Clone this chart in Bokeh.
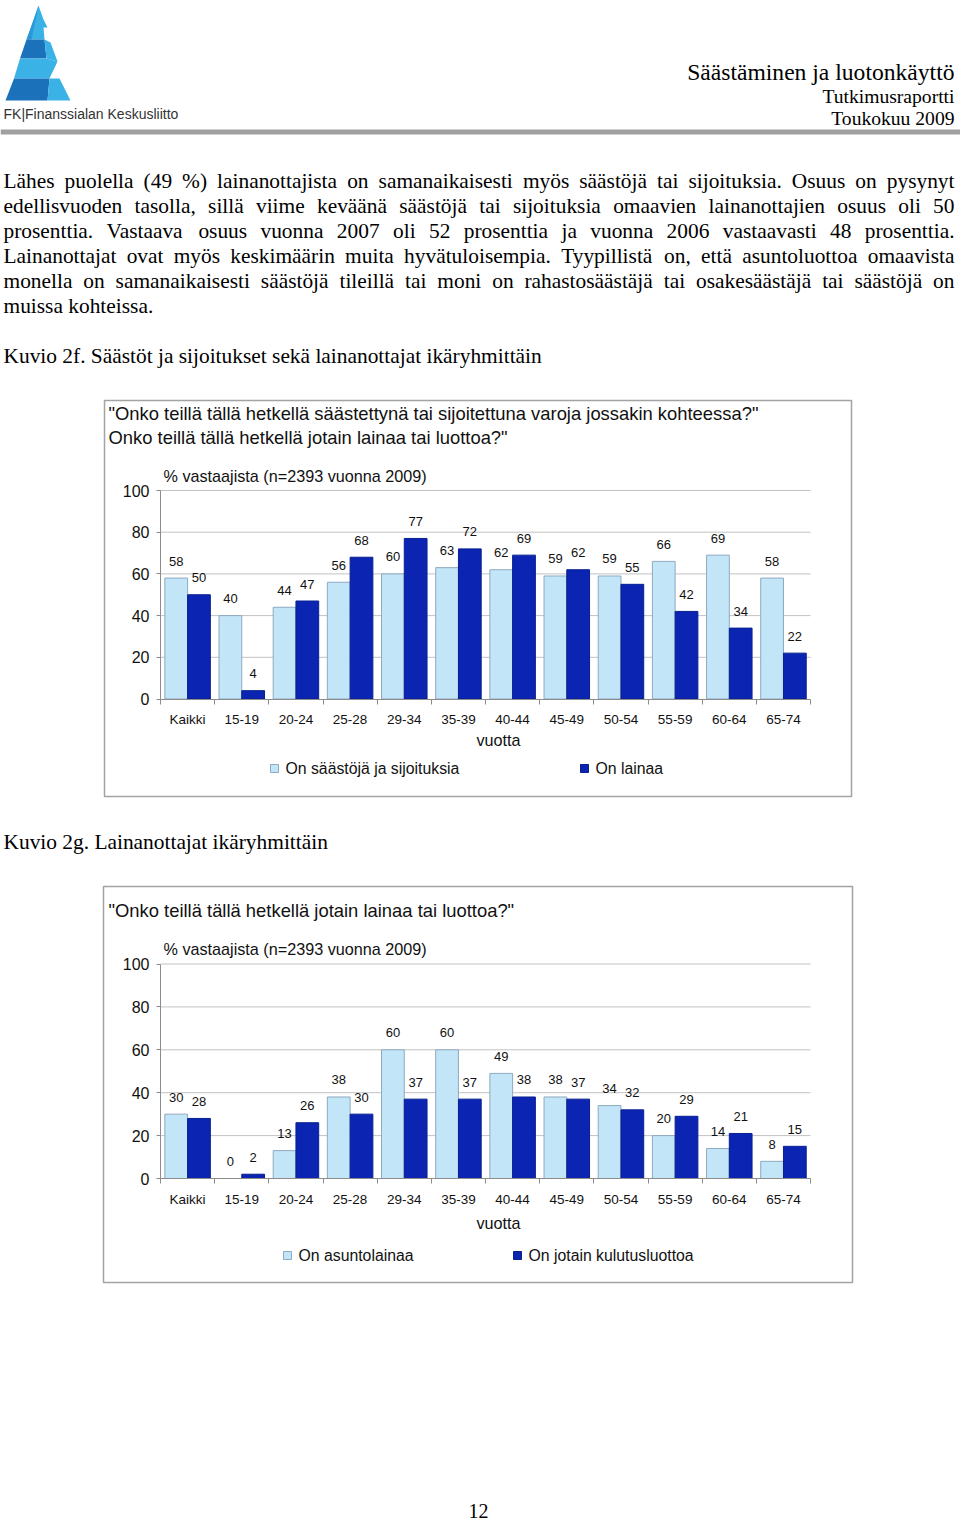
from bokeh.plotting import figure
from bokeh.models import Range1d, LinearAxis, FixedTicker
from bokeh.core.properties import value
from bokeh.embed import file_html
from bokeh.resources import INLINE

# ---------------- DATA ----------------
CATEGORIES = ["Kaikki", "15-19", "20-24", "25-28", "29-34", "35-39",
              "40-44", "45-49", "50-54", "55-59", "60-64", "65-74"]
SAVINGS = [58, 40, 44, 56, 60, 63, 62, 59, 59, 66, 69, 58]      # On säästöjä ja sijoituksia
LOANS = [50, 4, 47, 68, 77, 72, 69, 62, 55, 42, 34, 22]         # On lainaa
MORTGAGE = [30, 0, 13, 38, 60, 60, 49, 38, 34, 20, 14, 8]       # On asuntolainaa
CONSUMER = [28, 2, 26, 30, 37, 37, 38, 37, 32, 29, 21, 15]      # On jotain kulutusluottoa
Y_TICKS = [0, 20, 40, 60, 80, 100]
GRID_VALUES = [20, 40, 60, 80, 100]

SERIES_1 = ["On säästöjä ja sijoituksia", "On lainaa"]
SERIES_2 = ["On asuntolainaa", "On jotain kulutusluottoa"]

HEADER_TITLE = "Säästäminen ja luotonkäyttö"
HEADER_SUB1 = "Tutkimusraportti"
HEADER_SUB2 = "Toukokuu 2009"
LOGO_TEXT = "FK|Finanssialan Keskusliitto"
BODY_LINES = [
    "Lähes puolella (49 %) lainanottajista on samanaikaisesti myös säästöjä tai sijoituksia. Osuus on pysynyt",
    "edellisvuoden tasolla, sillä viime keväänä säästöjä tai sijoituksia omaavien lainanottajien osuus oli 50",
    "prosenttia. Vastaava osuus vuonna 2007 oli 52 prosenttia ja vuonna 2006 vastaavasti 48 prosenttia.",
    "Lainanottajat ovat myös keskimäärin muita hyvätuloisempia. Tyypillistä on, että asuntoluottoa omaavista",
    "monella on samanaikaisesti säästöjä tileillä tai moni on rahastosäästäjä tai osakesäästäjä tai säästöjä on",
    "muissa kohteissa.",
]
CAPTION_1 = "Kuvio 2f. Säästöt ja sijoitukset sekä lainanottajat ikäryhmittäin"
CAPTION_2 = "Kuvio 2g. Lainanottajat ikäryhmittäin"
TITLE_1 = ['"Onko teillä tällä hetkellä säästettynä tai sijoitettuna varoja jossakin kohteessa?"',
           ' Onko teillä tällä hetkellä jotain lainaa tai luottoa?"']
TITLE_2 = ['"Onko teillä tällä hetkellä jotain lainaa tai luottoa?"']
SUBTITLE = "% vastaajista (n=2393 vuonna 2009)"
X_LABEL = "vuotta"
PAGE_NUMBER = "12"

# ---------------- STYLE / LAYOUT ----------------
SANS = "Liberation Sans"
SERIF = "Liberation Serif"
LIGHT, LIGHT_EDGE = "#C3E5F8", "#8FA9C0"
DARK, DARK_EDGE = "#0B24B2", "#08208F"
GRID_C, AXIS_C, BOX_C = "#C2C2C2", "#8C8C8C", "#A3A3A3"

W, H = 960, 1522
LEFT, RIGHT = 3, 954                     # text column edges in page coordinates
X0, DX = 187.1, 54.17                    # page x of first category centre, spacing
AXIS_X = 160
BAR_W = 0.42

CHARTS = [
    dict(name="c1", a=SAVINGS, b=LOANS, series=SERIES_1, titles=TITLE_1,
         box=(104, 851, 400, 796), y0=698.5, y100=490.0, title_y=[413, 437], sub_y=475,
         xlab_y=739, leg_y=768, leg_x=[274, 584]),
    dict(name="c2", a=MORTGAGE, b=CONSUMER, series=SERIES_2, titles=TITLE_2,
         box=(103, 852, 886, 1282), y0=1178.0, y100=963.5, title_y=[910], sub_y=948,
         xlab_y=1222, leg_y=1255, leg_x=[287, 517]),
]

TIMES = {' ': 250, 'a': 444, 'b': 500, 'c': 444, 'd': 500, 'e': 444, 'f': 333, 'g': 500,
         'h': 500, 'i': 278, 'j': 278, 'k': 500, 'l': 278, 'm': 778, 'n': 500, 'o': 500,
         'p': 500, 'q': 500, 'r': 333, 's': 389, 't': 278, 'u': 500, 'v': 500, 'w': 722,
         'x': 500, 'y': 500, 'z': 444, 'ä': 444, 'ö': 500, 'å': 444,
         'A': 722, 'B': 667, 'C': 667, 'D': 722, 'E': 611, 'F': 556, 'G': 722, 'H': 722,
         'I': 333, 'J': 389, 'K': 722, 'L': 611, 'M': 889, 'N': 722, 'O': 722, 'P': 556,
         'Q': 722, 'R': 667, 'S': 556, 'T': 611, 'U': 722, 'V': 722, 'W': 944, 'X': 722,
         'Y': 722, 'Z': 611, 'Ä': 722, 'Ö': 722, '.': 250, ',': 250, '(': 333, ')': 333,
         '%': 833, '-': 333, ':': 278, ';': 278, '?': 444, '!': 333}
for d in "0123456789":
    TIMES[d] = 500

BODY_SIZE = 21.4


def times_width(s, size):
    return sum(TIMES.get(ch, 500) for ch in s) * size / 1000.0


# ---------------- FIGURE ----------------
p = figure(width=W, height=H, x_range=Range1d(0, W), y_range=Range1d(H, 0),
           x_axis_type=None, y_axis_type=None, toolbar_location=None,
           output_backend="svg", min_border=0, outline_line_color=None,
           background_fill_color="white", border_fill_color="white")
p.grid.visible = False

p.extra_x_ranges = {"cx": Range1d((0 - X0) / DX, (W - X0) / DX)}
for ch in CHARTS:
    s = (ch["y0"] - ch["y100"]) / 100.0
    p.extra_y_ranges[ch["name"]] = Range1d((ch["y0"] - H) / s, (ch["y0"] - 0) / s)


def txt(x, y, t, size, font=SANS, align="left", baseline="middle", color="#111111"):
    p.text(x=[x], y=[y], text=[t], text_font=value(font), text_font_size=value(f"{size}px"),
           text_align=align, text_baseline=baseline, text_color=color)


# ---------------- HEADER ----------------
# logo (decorative)
logo_parts = [
    ([38, 43, 47, 43, 44, 26], [5, 19, 27, 27, 39, 39], "#3AB2E5"),
    ([38, 33, 26, 31], [5, 20, 39, 39], "#2A98D6"),
    ([26, 44, 46, 19.5], [39, 39, 58, 58], "#1C72BA"),
    ([44, 50, 57, 46], [39, 42, 61, 58], "#3AB2E5"),
    ([19.5, 46, 57, 49, 13.5], [58, 58, 61, 78, 78], "#3AB2E5"),
    ([13.5, 49, 47, 5], [78, 78, 100, 100], "#1C72BA"),
    ([49, 59, 70, 47], [78, 78, 100, 100], "#3AB2E5"),
]
p.patches(xs=[xs for xs, ys, c in logo_parts], ys=[ys for xs, ys, c in logo_parts],
          fill_color=[c for xs, ys, c in logo_parts], line_color=None)
txt(LEFT, 113, LOGO_TEXT, 14, font=SANS, color="#333333")

txt(RIGHT, 71, HEADER_TITLE, 23.6, font=SERIF, align="right", color="#000000")
txt(RIGHT, 96, HEADER_SUB1, 19.6, font=SERIF, align="right", color="#000000")
txt(RIGHT, 118, HEADER_SUB2, 19.6, font=SERIF, align="right", color="#000000")
p.quad(left=0, right=W, top=129, bottom=134, fill_color="#A0A0A0", line_color=None)

# ---------------- BODY TEXT (justified) ----------------
BODY_Y0, BODY_DY = 180.8, 24.9
lx, ly, lt, rx, ry, rt = [], [], [], [], [], []
for k, line in enumerate(BODY_LINES):
    y = BODY_Y0 + k * BODY_DY
    words = line.split(" ")
    if k == len(BODY_LINES) - 1:
        lx.append(LEFT); ly.append(y); lt.append(line)
        continue
    widths = [times_width(w_, BODY_SIZE) for w_ in words]
    gap = (RIGHT - LEFT - sum(widths)) / (len(words) - 1)
    x = LEFT
    for j, (w_, wd) in enumerate(zip(words, widths)):
        if j == len(words) - 1:
            rx.append(RIGHT); ry.append(y); rt.append(w_)
        else:
            lx.append(x); ly.append(y); lt.append(w_)
        x += wd + gap
p.text(x=lx, y=ly, text=lt, text_font=value(SERIF), text_font_size=value(f"{BODY_SIZE}px"),
       text_align="left", text_baseline="middle", text_color="#000000")
p.text(x=rx, y=ry, text=rt, text_font=value(SERIF), text_font_size=value(f"{BODY_SIZE}px"),
       text_align="right", text_baseline="middle", text_color="#000000")

txt(LEFT, 355.5, CAPTION_1, BODY_SIZE, font=SERIF, color="#000000")
txt(LEFT, 841.5, CAPTION_2, BODY_SIZE, font=SERIF, color="#000000")
txt(478, 1510, PAGE_NUMBER, 20, font=SERIF, align="center", color="#000000")

# ---------------- CHARTS ----------------
idx = list(range(len(CATEGORIES)))
for ch in CHARTS:
    yn = ch["name"]
    l, r, t, b = ch["box"]
    p.quad(left=l, right=r, top=t, bottom=b, fill_color=None, line_color=BOX_C, line_width=1.5)

    # titles
    txt(108, ch["title_y"][0], ch["titles"][0], 18.4)
    if len(ch["titles"]) > 1:
        txt(108, ch["title_y"][1], ch["titles"][1], 18.4)
    txt(163, ch["sub_y"], SUBTITLE, 16.2)

    # grid lines
    p.segment(x0=[-0.5] * len(GRID_VALUES), x1=[len(CATEGORIES) - 0.5] * len(GRID_VALUES),
              y0=GRID_VALUES, y1=GRID_VALUES, x_range_name="cx", y_range_name=yn,
              line_color=GRID_C, line_width=1)

    xa = [i - BAR_W / 2 for i in idx]
    xb = [i + BAR_W / 2 for i in idx]
    p.vbar(x=xa, top=ch["a"], bottom=0, width=BAR_W, x_range_name="cx", y_range_name=yn,
           fill_color=LIGHT, line_color=LIGHT_EDGE, line_width=1)
    p.vbar(x=xb, top=ch["b"], bottom=0, width=BAR_W, x_range_name="cx", y_range_name=yn,
           fill_color=DARK, line_color=DARK_EDGE, line_width=1)

    # value labels
    for xs, vals in ((xa, ch["a"]), (xb, ch["b"])):
        p.text(x=xs, y=vals, text=[str(v) for v in vals], x_range_name="cx", y_range_name=yn,
               y_offset=-17, text_align="center", text_baseline="middle",
               text_font=value(SANS), text_font_size=value("13px"), text_color="#111111")

    # axes
    yax = LinearAxis(y_range_name=yn, fixed_location=AXIS_X, bounds=(0, 100),
                     ticker=FixedTicker(ticks=Y_TICKS))
    yax.axis_line_color = AXIS_C
    yax.major_tick_line_color = AXIS_C
    yax.major_tick_out = 4
    yax.major_tick_in = 0
    yax.minor_tick_line_color = None
    yax.major_label_standoff = 7
    yax.major_label_text_font = SANS
    yax.major_label_text_font_size = "16px"
    yax.major_label_text_color = "#111111"
    p.add_layout(yax, "left")

    xax = LinearAxis(x_range_name="cx", y_range_name=yn, fixed_location=0,
                     bounds=(-0.5, len(CATEGORIES) - 0.5),
                     ticker=FixedTicker(ticks=idx, minor_ticks=[i - 0.5 for i in range(len(CATEGORIES) + 1)]),
                     major_label_overrides={i: c for i, c in enumerate(CATEGORIES)})
    xax.axis_line_color = AXIS_C
    xax.major_tick_line_color = None
    xax.major_tick_out = 0
    xax.major_tick_in = 0
    xax.minor_tick_line_color = AXIS_C
    xax.minor_tick_out = 5
    xax.minor_tick_in = 0
    xax.major_label_standoff = 8
    xax.major_label_text_font = SANS
    xax.major_label_text_font_size = "13.5px"
    xax.major_label_text_color = "#111111"
    p.add_layout(xax, "below")

    txt(498, ch["xlab_y"], X_LABEL, 16.2, align="center")

    # legend
    lx0, lx1 = ch["leg_x"]
    p.rect(x=[lx0], y=[ch["leg_y"]], width=8, height=8, fill_color=LIGHT, line_color=LIGHT_EDGE)
    p.rect(x=[lx1], y=[ch["leg_y"]], width=8, height=8, fill_color=DARK, line_color=DARK_EDGE)
    txt(lx0 + 11, ch["leg_y"], ch["series"][0], 15.8)
    txt(lx1 + 11, ch["leg_y"], ch["series"][1], 15.8)

open("out.html", "w").write(file_html(p, INLINE))
